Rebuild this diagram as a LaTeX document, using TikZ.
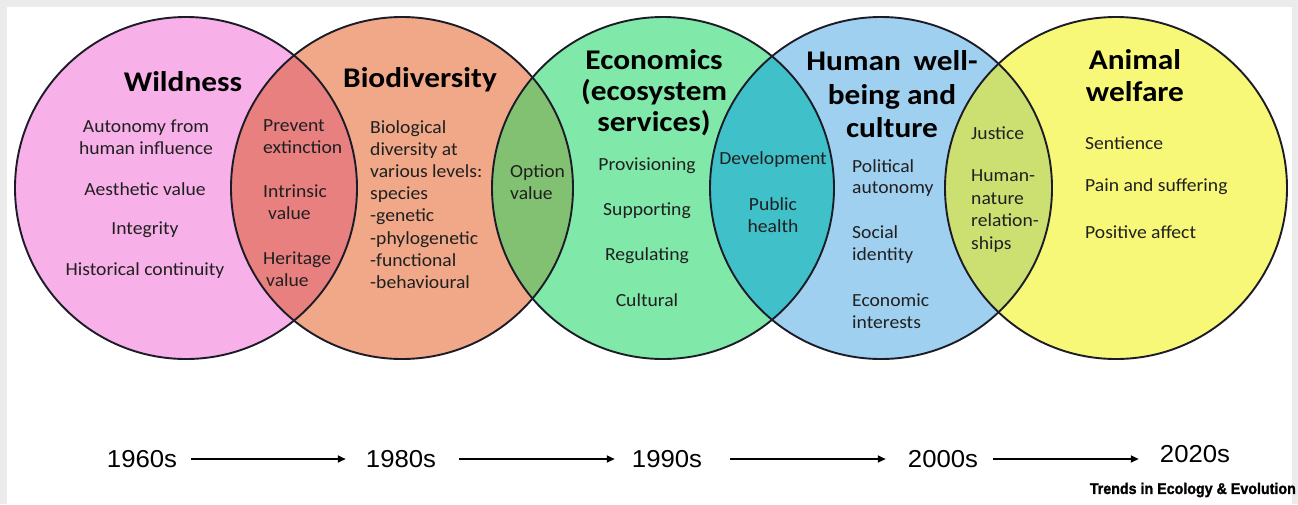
\documentclass[tikz,border=0pt]{standalone}
\usepackage{fontspec}
\setmainfont{Carlito}[FakeStretch=1.06]
\newfontfamily\ttlfont{Carlito}[FakeStretch=1.1]
\newfontfamily\tlfont{Liberation Sans}[FakeStretch=1.05]
\newfontfamily\srcfont{Liberation Sans}[FakeBold=1.5]
\usetikzlibrary{arrows.meta}
\definecolor{bgray}{HTML}{EBEBEB}
\definecolor{cpink}{HTML}{F7B0E8}
\definecolor{corange}{HTML}{F0A888}
\definecolor{cgreen}{HTML}{80E8A8}
\definecolor{cblue}{HTML}{A0D0F0}
\definecolor{cyellow}{HTML}{F8F878}
\definecolor{ired}{HTML}{E88080}
\definecolor{iolive}{HTML}{82C072}
\definecolor{iteal}{HTML}{40C0C8}
\definecolor{ilime}{HTML}{CCE072}
\definecolor{ink}{HTML}{1C1C28}
\definecolor{txt}{HTML}{202020}
\tikzset{
  ring/.style={draw=ink, line width=1.9pt},
  ttl/.style={font={\ttlfont\fontsize{28.5}{32}\selectfont\bfseries}, text=black, align=center, inner sep=0pt},
  body/.style={font={\fontsize{18.5}{21.8}\selectfont}, text=txt, align=center, inner sep=0pt},
  bodyl/.style={body, align=left, anchor=west},
  tl/.style={font={\tlfont\fontsize{24.5}{27}\selectfont}, text=black, inner sep=0pt},
  tlarrow/.style={-{Triangle[length=8pt,width=7pt]}, line width=1.8pt, black}
}
\begin{document}
\begin{tikzpicture}[x=1pt,y=-1pt]
\useasboundingbox (0,0) rectangle (1298,504);
\fill[bgray] (0,0) rectangle (1298,504);
\fill[white] (7,7) rectangle (1292,504);
% circle centres
\coordinate (cW) at (186,188);
\coordinate (cB) at (402,188);
\coordinate (cE) at (663,188);
\coordinate (cH) at (881,188);
\coordinate (cA) at (1116,188);
\def\R{171pt}
\fill[cpink] (cW) circle[radius=\R];
\fill[corange] (cB) circle[radius=\R];
\fill[cgreen] (cE) circle[radius=\R];
\fill[cblue] (cH) circle[radius=\R];
\fill[cyellow] (cA) circle[radius=\R];
\begin{scope}\clip (cW) circle[radius=\R]; \fill[ired] (cB) circle[radius=\R];\end{scope}
\begin{scope}\clip (cB) circle[radius=\R]; \fill[iolive] (cE) circle[radius=\R];\end{scope}
\begin{scope}\clip (cE) circle[radius=\R]; \fill[iteal] (cH) circle[radius=\R];\end{scope}
\begin{scope}\clip (cH) circle[radius=\R]; \fill[ilime] (cA) circle[radius=\R];\end{scope}
\foreach \c in {cW,cB,cE,cH,cA} \draw[ring] (\c) circle[radius=\R];

% Wildness
\node[ttl] (tW) at (183,82) {Wildness};
\node[body] (w1) at (146,137.5) {Autonomy from\\human influence};
\node[body] (w2) at (145,189) {Aesthetic value};
\node[body] (w3) at (145,230) {Integrity};
\node[body] (w4) at (145,271) {Historical continuity};
% Wildness / Biodiversity
\node[bodyl] (x1) at (263,136.5) {Prevent\\extinction};
\node[bodyl] (x2) at (263,202.5) {Intrinsic\\\hspace*{5pt}value};
\node[bodyl] (x3) at (263,269) {Heritage\\\hspace*{3pt}value};
% Biodiversity
\node[ttl] (tB) at (420,80) {Biodiversity};
\node[bodyl, font={\fontsize{18.5}{22.1}\selectfont}] (b1) at (370,204.5) {Biological\\diversity at\\various levels:\\species\\-genetic\\-phylogenetic\\-functional\\-behavioural};
% Biodiversity / Economics
\node[bodyl] (x4) at (510,182) {Option\\value};
% Economics
\node[ttl, font={\ttlfont\fontsize{28.5}{31}\selectfont\bfseries}] (tE) at (654,93) {Economics\\(ecosystem\\services)};
\node[body] (e1) at (647,166) {Provisioning};
\node[body] (e2) at (647,211) {Supporting};
\node[body] (e3) at (647,256) {Regulating};
\node[body] (e4) at (647,300) {Cultural};
% Economics / Human
\node[body] (x5) at (773,160) {Development};
\node[body] (x6) at (773,215) {Public\\health};
% Human
\node[ttl, font={\ttlfont\fontsize{28.5}{33.5}\selectfont\bfseries}] (tH) at (892,94.5) {Human\hspace{0.45em}well-\\being and\\culture};
\node[bodyl] (h1) at (852,178) {Political\\autonomy};
\node[bodyl] (h2) at (852,244.5) {Social\\identity};
\node[bodyl] (h3) at (852,311) {Economic\\interests};
% Human / Animal
\node[bodyl] (x7) at (971,133) {Justice};
\node[bodyl, font={\fontsize{18.5}{22.7}\selectfont}] (x8) at (971,211) {Human-\\nature\\relation-\\ships};
% Animal
\node[ttl] (tA) at (1135,76) {Animal\\welfare};
\node[bodyl] (a1) at (1085,143) {Sentience};
\node[bodyl] (a2) at (1085,187) {Pain and suffering};
\node[bodyl] (a3) at (1085,232) {Positive affect};

% timeline
\node[tl] (t1) at (142,459) {1960s};
\node[tl] (t2) at (401,459) {1980s};
\node[tl] (t3) at (667,459) {1990s};
\node[tl] (t4) at (943,459) {2000s};
\node[tl] (t5) at (1195,454) {2020s};
\draw[tlarrow, shorten <=14pt, shorten >=20pt] (t1.east) -- (t2.west);
\draw[tlarrow, shorten <=23pt, shorten >=17pt] (t2.east) -- (t3.west);
\draw[tlarrow, shorten <=28pt, shorten >=22pt] (t3.east) -- (t4.west);
\draw[tlarrow, shorten <=15pt, shorten >=21pt] (t4.east) -- (t4.east -| t5.west);
\node[font={\srcfont\fontsize{15.5}{17}\selectfont\bfseries}, text=black, inner sep=0pt, anchor=east, xscale=0.92] (src) at (1296,490) {Trends in Ecology \& Evolution};
\end{tikzpicture}
\end{document}
